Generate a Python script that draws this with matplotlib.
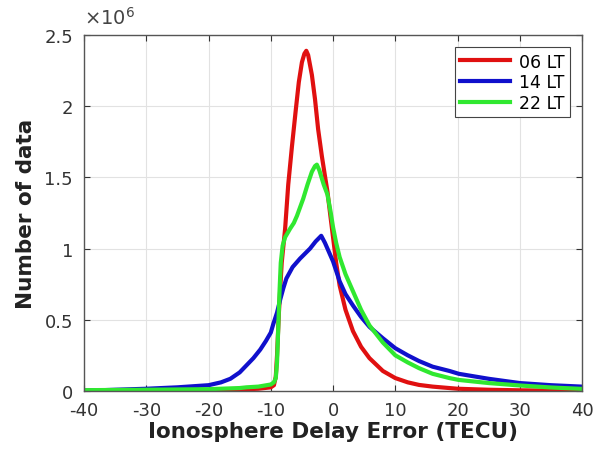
import matplotlib
matplotlib.use("Agg")
import matplotlib.pyplot as plt
from matplotlib.ticker import FuncFormatter

plt.rcParams["axes.unicode_minus"] = False
plt.rcParams["mathtext.default"] = "regular"

# Values (y in millions)
x_06 = [-40, -30, -20, -15, -12, -10, -9.5, -9.2, -9.0, -8.7, -8.25, -7.7, -7.2, -6.6, -6.0,
        -5.5, -5.0, -4.6, -4.3, -4.0, -3.4, -2.9, -2.4, -1.8, -1.3, -0.9, -0.4, 0, 0.5, 1.06,
        2, 3.2, 4.5, 5.85, 8, 10, 12, 13.8, 16, 20, 25, 30, 35, 40]
y_06 = [0.0, 0.002, 0.005, 0.01, 0.015, 0.025, 0.04, 0.1, 0.25, 0.55, 0.9, 1.14, 1.45, 1.72, 1.97,
        2.17, 2.31, 2.37, 2.39, 2.36, 2.22, 2.05, 1.84, 1.65, 1.51, 1.40, 1.22, 1.08, 0.90, 0.74,
        0.57, 0.42, 0.31, 0.23, 0.14, 0.09, 0.06, 0.042, 0.03, 0.015, 0.008, 0.004, 0.002, 0.001]

x_14 = [-40, -37, -35, -30, -25, -20, -18, -16.5, -15, -13.9, -12.8, -11.7, -10.8, -10, -9.6,
        -9, -8.5, -8, -7.5, -6.5, -5.3, -3.7, -2.8, -1.9, -1.3, -0.6, 0, 1.06, 2, 3.2, 4.5,
        5.85, 8, 10, 12, 13.8, 16, 18.7, 20.2, 25, 30, 35, 40]
y_14 = [0.003, 0.005, 0.008, 0.015, 0.025, 0.04, 0.06, 0.085, 0.13, 0.18, 0.23, 0.29, 0.35, 0.41, 0.47,
        0.55, 0.64, 0.72, 0.79, 0.87, 0.93, 1.0, 1.05, 1.09, 1.04, 0.97, 0.91, 0.77, 0.68, 0.60, 0.52,
        0.45, 0.37, 0.30, 0.25, 0.21, 0.17, 0.14, 0.12, 0.085, 0.055, 0.04, 0.03]

x_22 = [-40, -30, -20, -15, -13.9, -12, -10, -9.5, -9.2, -9.0, -8.8, -8.6, -8.4, -8.1, -7.7,
        -7.3, -6.9, -6.3, -5.8, -5.3, -4.8, -4.1, -3.4, -2.9, -2.6, -2.2, -1.5, -0.9, -0.4, 0,
        0.5, 1.06, 2, 3.2, 4.5, 5.85, 8, 10, 12, 13.8, 16, 18.7, 20.2, 25, 30, 35, 40]
y_22 = [0.005, 0.008, 0.012, 0.02, 0.025, 0.03, 0.045, 0.06, 0.09, 0.2, 0.45, 0.7, 0.9, 1.02, 1.08,
        1.11, 1.14, 1.18, 1.23, 1.29, 1.35, 1.45, 1.54, 1.58, 1.59, 1.55, 1.45, 1.38, 1.26, 1.15,
        1.04, 0.94, 0.82, 0.70, 0.57, 0.46, 0.34, 0.25, 0.20, 0.16, 0.12, 0.09, 0.077, 0.055, 0.038, 0.024, 0.014]

labels = ["06 LT", "14 LT", "22 LT"]
colors = ["#e01010", "#1010cc", "#30e830"]

xticks = [-40, -30, -20, -10, 0, 10, 20, 30, 40]
yticks = [0, 0.5e6, 1e6, 1.5e6, 2e6, 2.5e6]

fig = plt.figure(figsize=(6.05, 4.52), dpi=100)
ax = fig.add_axes([0.139, 0.133, 0.823, 0.787])

for xs, ys, lab, c in zip([x_06, x_14, x_22], [y_06, y_14, y_22], labels, colors):
    ax.plot(xs, [v * 1e6 for v in ys], color=c, lw=3, label=lab)

ax.set_xlim(-40, 40)
ax.set_ylim(0, 2.5e6)
ax.set_xticks(xticks)
ax.set_yticks(yticks)
ax.yaxis.set_major_formatter(FuncFormatter(lambda v, p: f"{v / 1e6:g}"))
ax.text(0.0, 1.02, r"$\times10^{6}$", transform=ax.transAxes, fontsize=14,
        color="#444444", ha="left", va="bottom")

ax.grid(True, color="#e2e2e2", lw=0.8)
ax.set_axisbelow(True)
ax.tick_params(direction="in", top=True, right=True, length=4, labelsize=13,
               colors="#333333", width=0.8)
ax.tick_params(axis="x", pad=7)
ax.tick_params(axis="y", pad=8)
for s in ax.spines.values():
    s.set_color("#555555")
    s.set_linewidth(1.0)

ax.set_xlabel("Ionosphere Delay Error (TECU)", fontsize=15.5, fontweight="bold",
              color="#222222", labelpad=2)
ax.set_ylabel("Number of data", fontsize=15.5, fontweight="bold", color="#222222",
              labelpad=6)

leg = ax.legend(loc="upper right", fontsize=12.5, fancybox=False, framealpha=1,
                edgecolor="#444444", handlelength=2.9, borderaxespad=0.7,
                borderpad=0.3, labelspacing=0.15, handletextpad=0.5)
leg.get_frame().set_linewidth(0.8)

fig.savefig("out.png", dpi=100)
